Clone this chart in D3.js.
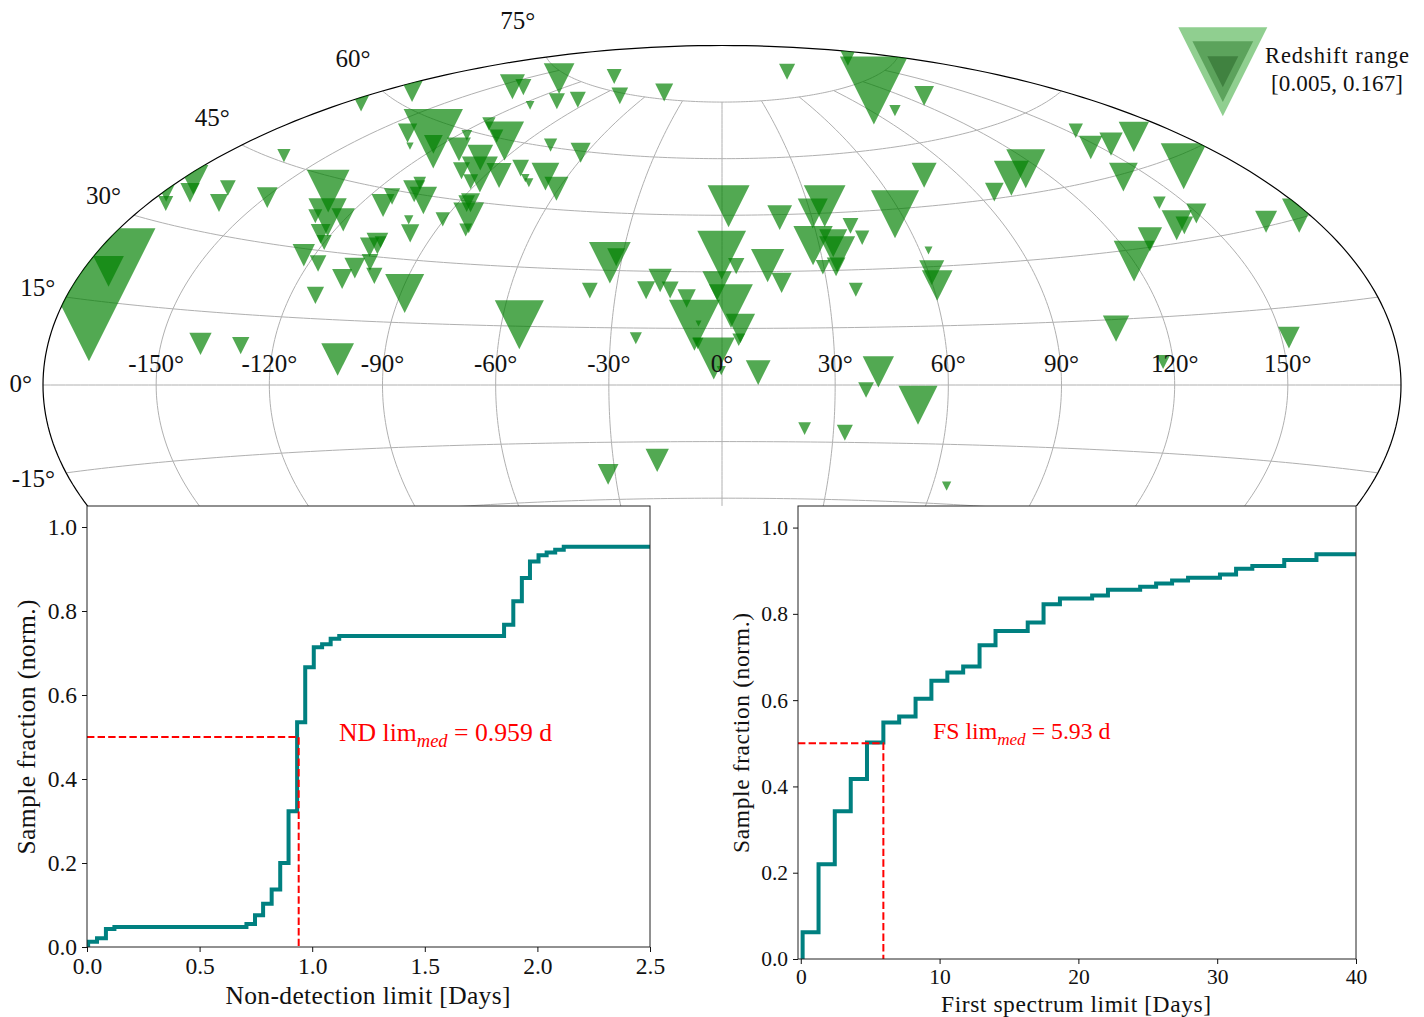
<!DOCTYPE html>
<html><head><meta charset="utf-8">
<style>
html,body{margin:0;background:#fff}
svg{display:block}
text{font-family:"Liberation Serif",serif;fill:#111}
</style></head><body>
<svg id="c" width="1424" height="1017"></svg>
<script src="https://cdn.jsdelivr.net/npm/d3@7"></script>
<script>
// ---- sky map data (degrees; redshift) ----
const longitudes=[-175.3,-178.8,-172.6,-176.7,-164.1,-161.0,-149.5,-162.9,-174.9,-171.4,-174.3,-173.0,-134.2,-125.6,-129.5,-120.3,-123.1,-120.0,-123.0,-117.4,-106.3,-108.1,-113.2,-88.9,-104.5,-106.0,-103.9,-103.0,-99.6,-112.7,-112.9,-107.8,-109.0,-101.8,-100.8,-97.1,-90.5,
-138.7,-129.8,-126.4,-123.0,-135.9,-143.6,-138.9,-107.0,-98.1,-115.3,-116.4,-98.9,-105.0,-116.6,-111.1,-99.3,-92.2,-100.1,-92.7,-85.1,-80.1,-74.9,-72.2,-68.1,-60.8,-78.3,-62.5,-86.1,-87.1,-82.8,-81.1,-109.2,-77.9,-49.4,84.3,112.9,162.9,
129.8,101.8,77.8,57.9,2.3,19.3,35.6,30.7,28.1,34.5,34.8,41.7,44.0,29.7,33.6,37.9,62.6,60.9,61.2,-33.3,-31.8,-0.1,4.2,13.5,17.1,-1.4,2.5,-17.8,-21.5,-14.7,-9.9,-37.4,-7.5,-6.4,-23.2,5.0,4.5,
-55.1,-6.5,-2.2,-0.2,9.6,41.5,38.2,52.1,22.2,33.1,64.0,-17.9,-32.0,-139.5,-128.7,-102.3,152.7,147.0,155.0,165.9,164.4,142.1,115.5,106.7,96.1,142.7,140.6,142.7,149.6,129.3,120.1,166.3,177.0,106.5,152.0,117.3];
const latitudes=[33.1,34.6,35.8,37.8,38.3,35.5,38.5,46.0,57.3,62.1,15.9,20.3,42.2,37.1,36.9,37.1,33.5,31.8,28.6,27.2,27.0,24.3,20.2,22.0,33.0,32.0,33.4,28.6,25.6,41.4,43.6,45.5,47.4,43.8,39.1,36.1,40.1,
56.3,54.2,56.7,55.7,74.0,69.7,70.4,70.1,71.5,67.9,62.3,59.6,60.3,59.0,55.9,55.1,51.4,51.6,49.5,51.8,54.2,52.0,51.0,52.9,50.2,60.5,59.6,44.7,44.4,41.1,38.2,77.9,74.3,76.7,81.2,72.8,79.0,
68.9,67.9,52.5,43.7,47.4,44.2,46.8,45.0,36.6,37.1,34.2,41.4,38.2,30.9,30.9,24.8,34.1,28.5,25.2,32.0,33.5,34.4,31.5,31.6,27.0,26.3,20.9,27.6,25.0,25.1,22.9,24.6,15.8,16.3,12.3,15.0,12.0,
15.4,11.0,7.0,3.8,3.3,3.4,-1.3,-5.2,-11.5,-12.5,-25.5,-19.9,-23.4,8.4,8.4,5.9,54.4,51.0,50.4,50.1,43.2,44.4,50.3,48.9,46.5,38.3,33.5,33.2,34.9,31.6,27.5,30.8,30.4,12.9,9.2,5.1];
const redshifts=[.0165,.0190,.0220,.0356,.0174,.0203,.0238,.0143,.0178,.0241,.1670,.0365,.0518,.0462,.0152,.0271,.0225,.0165,.0258,.0186,.0238,.0229,.0194,.0471,.0250,.0220,.0123,.0186,.0181,.0267,.0181,.0254,.0135,.0322,.0092,.0207,.0156,
.0220,.0067,.0730,.0212,.0365,.0292,.0178,.0178,.0178,.0084,.0143,.0471,.0143,.0110,.0276,.0301,.0433,.0190,.0165,.0292,.0186,.0079,.0088,.0327,.0280,.0143,.0229,.0216,.0186,.0365,.0139,.0165,.0186,.0203,.0178,.0841,.0178,
.0225,.0118,.0292,.0586,.0509,.0289,.0505,.0356,.0475,.0331,.0433,.0174,.0156,.0156,.0212,.0152,.0076,.0292,.0365,.0505,.0203,.0595,.0181,.0398,.0232,.0347,.0531,.0271,.0203,.0190,.0207,.0174,.0624,.0050,.0127,.0347,.0135,
.0599,.0118,.0509,.0092,.0289,.0373,.0174,.0471,.0135,.0178,.0092,.0271,.0238,.0258,.0194,.0391,.0156,.0271,.0271,.0360,.0560,.0340,.0471,.0420,.0212,.0135,.0356,.0199,.0229,.0283,.0493,.0254,.0411,.0309,.0250,.0152];
const redshiftRange=[0.005,0.167];
const legendRedshifts=[0.1109,0.0748,0.0369];
const legendColours=["#90cf90","#5ca35c","#408240"];
const lonTicks=[-150,-120,-90,-60,-30,0,30,60,90,120,150];
const latTicks=[-75,-60,-45,-30,-15,0,15,30,45,60,75];
const latLabels=[-15,0,15,30,45,60,75];
// ---- cumulative steps ----
const ndDays=[0.005,0.005,0.0445,0.084,0.1217,0.708,0.746,0.782,0.82,0.858,0.895,0.933,0.969,1.007,1.044,1.082,1.12,1.852,1.893,1.931,1.967,2.005,2.041,2.079,2.117,2.5];
const ndFrac=[0,0.0127,0.0206,0.0429,0.0476,0.0548,0.0754,0.103,0.137,0.2,0.323,0.535,0.666,0.7135,0.7206,0.734,0.7405,0.7675,0.823,0.8786,0.918,0.9325,0.939,0.946,0.953,0.953];
const fsDays=[0.133,0.133,1.28,2.45,3.6,4.77,5.95,7.09,8.27,9.41,10.56,11.7,12.88,14.03,16.35,17.49,18.67,20.99,22.13,24.45,25.6,26.75,27.9,30.2,31.36,32.53,34.83,37.15,40];
const fsFrac=[0,0.062,0.2194,0.3426,0.417,0.5016,0.548,0.562,0.603,0.645,0.664,0.678,0.727,0.76,0.78,0.822,0.8357,0.8426,0.856,0.863,0.8705,0.8775,0.8837,0.8915,0.9047,0.911,0.925,0.938,0.938];
const ndMedianPlot=[0.94,0.5], fsMedianPlot=[5.95,0.5];
const ndXTicks=[0,0.5,1,1.5,2,2.5], fsXTicks=[0,10,20,30,40], fracTicks=[0,0.2,0.4,0.6,0.8,1];

const svg=d3.select("#c");
// Aitoff projection
function aitoffRaw(l,p){
  const a=Math.acos(Math.cos(p)*Math.cos(l/2));
  const s=a<1e-9?1:Math.sin(a)/a;
  return [2*Math.cos(p)*Math.sin(l/2)/s,Math.sin(p)/s];
}
const proj=d3.geoProjection(aitoffRaw).scale(679/Math.PI).translate([722,385]).precision(.1);
const pline=d3.line().x(d=>proj(d)[0]).y(d=>proj(d)[1]);
const defs=svg.append("defs");
defs.append("clipPath").attr("id","mapclip").append("path")
  .attr("d",pline(d3.range(-90,90.5,1).map(a=>[-180,a]).concat(d3.range(90,-90.5,-1).map(a=>[180,a])))+"Z");
defs.append("clipPath").attr("id","bandclip").append("rect").attr("x",0).attr("y",0).attr("width",1424).attr("height",506);

const map=svg.append("g").attr("clip-path","url(#bandclip)");
const grid=map.append("g").attr("fill","none").attr("stroke","#b0b0b0").attr("stroke-width",1);
latTicks.forEach(lat=>grid.append("path").attr("d",pline(d3.range(-180,180.5,2).map(l=>[l,lat]))));
lonTicks.forEach(lon=>grid.append("path").attr("d",pline(d3.range(-75,75.5,1).map(a=>[lon,a]))));
// outline
map.append("path").attr("fill","none").attr("stroke","#000").attr("stroke-width",1.2)
  .attr("d",pline(d3.range(-90,90.5,1).map(a=>[-180,a]).concat(d3.range(90,-90.5,-1).map(a=>[180,a])))+"Z");
// tick labels
const latOffsets={"-15":[-11,6],"0":[-11,-2],"15":[-11,-10],"30":[-13,-20],"45":[-12,-27],"60":[-12,-32],"75":[-11,-37]};
svg.append("g").selectAll("text").data(latLabels).join("text")
  .attr("x",d=>proj([-180,d])[0]+latOffsets[d][0]).attr("y",d=>proj([-180,d])[1]+latOffsets[d][1])
  .attr("dy","0.34em").attr("text-anchor","end").attr("font-size",25).text(d=>d+"°");
svg.append("g").selectAll("text").data(lonTicks).join("text")
  .attr("x",d=>proj([d,0])[0]).attr("y",372).attr("text-anchor","middle").attr("font-size",25).text(d=>d+"°");
// markers
const widthScale=d3.scaleLinear().domain(redshiftRange).range([6,133]);
const tri=w=>`M${-w/2},${-w/2}L${w/2},${-w/2}L0,${w/2}Z`;
map.append("g").attr("clip-path","url(#mapclip)").selectAll("path").data(d3.range(longitudes.length)).join("path")
  .attr("transform",i=>{const p=proj([longitudes[i],latitudes[i]]);return `translate(${p[0]},${p[1]})`;})
  .attr("d",i=>tri(widthScale(redshifts[i])))
  .attr("fill","#008000").attr("fill-opacity",0.68);
// legend
const lg=svg.append("g").attr("transform","translate(1222.8,71.7)");
lg.selectAll("path").data(legendRedshifts).join("path").attr("d",d=>tri(widthScale(d))).attr("fill",(d,i)=>legendColours[i]);
svg.append("text").attr("x",1265).attr("y",63).attr("font-size",22.5).attr("textLength",144).attr("lengthAdjust","spacing").text("Redshift range");
svg.append("text").attr("x",1271).attr("y",91).attr("font-size",23).attr("textLength",132).attr("lengthAdjust","spacing").text("[0.005, 0.167]");

function panel(o){
  const x=d3.scaleLinear().domain(o.xd).range([o.l,o.r]);
  const y=d3.scaleLinear().domain([0,1.05]).range([o.b,o.t]);
  const g=svg.append("g");
  g.append("rect").attr("x",o.l).attr("y",o.t).attr("width",o.r-o.l).attr("height",o.b-o.t).attr("fill","#fff");
  const id="p"+o.l;
  defs.append("clipPath").attr("id",id).append("rect").attr("x",o.l).attr("y",o.t).attr("width",o.r-o.l).attr("height",o.b-o.t);
  const pts=o.xs.map((v,i)=>[v,o.ys[i]]);
  const ln=d3.line().x(d=>x(d[0])).y(d=>y(d[1])).curve(d3.curveStepAfter);
  const inner=g.append("g").attr("clip-path",`url(#${id})`);
  inner.append("path").attr("d",ln(pts)).attr("fill","none").attr("stroke","#008080").attr("stroke-width",4);
  inner.append("path").attr("d",d3.line().x(d=>x(d[0])).y(d=>y(d[1]))([[o.xd[0],o.med[1]],o.med,[o.med[0],0]]))
    .attr("fill","none").attr("stroke","#ff0000").attr("stroke-width",2).attr("stroke-dasharray","7.4,3.2");
  g.append("rect").attr("x",o.l).attr("y",o.t).attr("width",o.r-o.l).attr("height",o.b-o.t).attr("fill","none").attr("stroke","#222").attr("stroke-width",1);
  const ax=g.append("g").attr("transform",`translate(0,${o.b})`).call(d3.axisBottom(x).tickValues(o.xt).tickFormat(o.xf).tickSize(5).tickPadding(5));
  const ay=g.append("g").attr("transform",`translate(${o.l},0)`).call(d3.axisLeft(y).tickValues(fracTicks).tickFormat(d3.format(".1f")).tickSize(5).tickPadding(5));
  [ax,ay].forEach(a=>{a.select(".domain").remove();a.selectAll("text").attr("font-size",o.tfs).attr("font-family","Liberation Serif").attr("fill","#111");a.selectAll("line").attr("stroke","#111");});
  g.append("text").attr("x",o.xlab[0]).attr("y",o.xlab[1]).attr("text-anchor","middle").attr("font-size",o.lfs).attr("textLength",o.xlab[2]).attr("lengthAdjust","spacing").text(o.xl);
  g.append("text").attr("transform",`translate(${o.ylab[0]},${o.ylab[1]}) rotate(-90)`).attr("text-anchor","middle").attr("font-size",o.lfs).attr("textLength",o.ylab[2]).attr("lengthAdjust","spacing").text("Sample fraction (norm.)");
  const t=g.append("text").attr("x",o.ann[0]).attr("y",o.ann[1]).attr("font-size",o.ann[2]).style("fill","#ff0000");
  t.append("tspan").text(o.ann[3]+" lim");
  t.append("tspan").attr("dy",6).attr("font-size",o.ann[2]*.72).attr("font-style","italic").text("med");
  t.append("tspan").attr("dy",-6).text(" = "+o.ann[4]+" d");
}
panel({l:87,r:650,t:506,b:947,xd:[0,2.5],xs:ndDays,ys:ndFrac,med:ndMedianPlot,xt:ndXTicks,xf:d3.format(".1f"),tfs:23.5,lfs:25.5,
  xl:"Non-detection limit [Days]",xlab:[368,1004,285],ylab:[35,727,255],ann:[339,741,25.7,"ND","0.959"]});
panel({l:798,r:1356,t:506,b:959,xd:[-0.2,40],xs:fsDays,ys:fsFrac,med:fsMedianPlot,xt:fsXTicks,xf:d3.format("d"),tfs:21.5,lfs:23.5,
  xl:"First spectrum limit [Days]",xlab:[1076,1012,270],ylab:[749,733,240],ann:[933,739,23.8,"FS","5.93"]});
</script></body></html>
